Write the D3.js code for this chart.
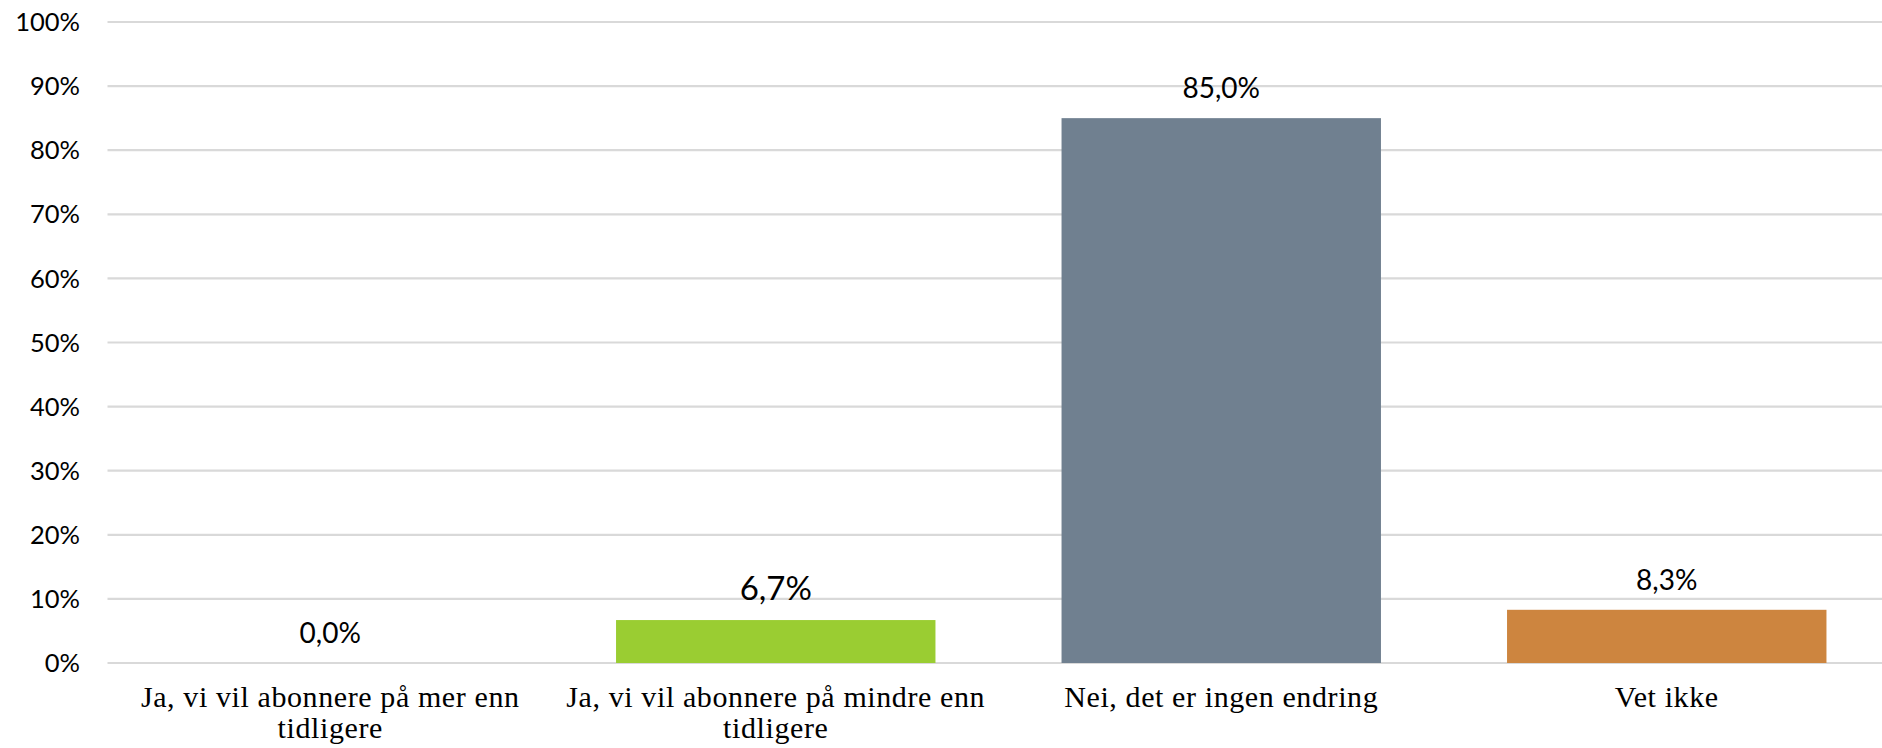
<!DOCTYPE html>
<html>
<head>
<meta charset="utf-8">
<script src="https://cdn.jsdelivr.net/npm/d3@7"></script>
<style>
  body { margin: 0; background: #fff; }
</style>
</head>
<body>
<script>
let width = 1882;
let height = 748;

// data

let categories = [
    "Ja, vi vil abonnere på mer enn tidligere",
    "Ja, vi vil abonnere på mindre enn tidligere",
    "Nei, det er ingen endring",
    "Vet ikke"
];
let values = [0.0, 6.7, 85.0, 8.3];
let yTicks = [0, 10, 20, 30, 40, 50, 60, 70, 80, 90, 100];

let barColors = ["#4682b4", "#9acd32", "#708090", "#cd853f"];
let labelSizes = [28, 33, 28, 28];

let margin = { top: 22, left: 107.5, bottom: 85 };

// scales

let xScale = d3.scaleBand()
    .domain(d3.range(categories.length))
    .range([margin.left, margin.left + 445.5 * categories.length])
    .paddingInner(0.283)
    .paddingOuter(0.1415);

let yScale = d3.scaleLinear()
    .domain([0, 100])
    .range([663, margin.top]);

let svg = d3.select("body")
    .append("svg")
    .attr("width", width)
    .attr("height", height);

// gridlines

svg.append("g")
    .selectAll("line")
    .data(yTicks)
    .enter()
    .append("line")
    .attr("x1", margin.left)
    .attr("x2", width)
    .attr("y1", d => yScale(d))
    .attr("y2", d => yScale(d))
    .attr("stroke", "#d9d9d9")
    .attr("stroke-width", 2.2);

// y tick labels

svg.append("g")
    .selectAll("text")
    .data(yTicks)
    .enter()
    .append("text")
    .text(d => d + "%")
    .attr("x", 80)
    .attr("y", d => yScale(d))
    .attr("dy", "0.36em")
    .attr("text-anchor", "end")
    .attr("font-family", "Lato, 'Open Sans', sans-serif")
    .attr("font-size", "25.5px")
    .attr("fill", "#000");

// bars

svg.append("g")
    .selectAll("rect")
    .data(values)
    .enter()
    .append("rect")
    .attr("x", (d, i) => xScale(i))
    .attr("y", d => yScale(d))
    .attr("width", xScale.bandwidth())
    .attr("height", d => yScale(0) - yScale(d))
    .attr("fill", (d, i) => barColors[i]);

// value labels

svg.append("g")
    .selectAll("text")
    .data(values)
    .enter()
    .append("text")
    .text(d => d.toFixed(1).replace(".", ",") + "%")
    .attr("x", (d, i) => xScale(i) + xScale.bandwidth() / 2)
    .attr("y", d => yScale(d) - 20)
    .attr("text-anchor", "middle")
    .attr("font-family", "Lato, 'Open Sans', sans-serif")
    .attr("font-size", (d, i) => labelSizes[i] + "px")
    .attr("fill", "#000");

// category labels, wrapped to the band step

let catLabels = svg.append("g")
    .selectAll("text")
    .data(categories)
    .enter()
    .append("text")
    .attr("x", (d, i) => xScale(i) + xScale.bandwidth() / 2)
    .attr("y", 707)
    .attr("text-anchor", "middle")
    .attr("font-family", "'Liberation Serif', 'Times New Roman', serif")
    .attr("font-size", "30px")
    .attr("letter-spacing", "0.6px")
    .attr("fill", "#000");

catLabels.each(function(d, i) {
    let text = d3.select(this);
    let words = d.split(" ");
    let x = text.attr("x");
    let line = [];
    let tspan = text.append("tspan").attr("x", x).attr("dy", 0);
    words.forEach(function(w) {
        line.push(w);
        tspan.text(line.join(" "));
        if (tspan.node().getComputedTextLength() > xScale.step() - 8 && line.length > 1) {
            line.pop();
            tspan.text(line.join(" "));
            line = [w];
            tspan = text.append("tspan").attr("x", x).attr("dy", "31px").text(w);
        }
    });
});
</script>
</body>
</html>
